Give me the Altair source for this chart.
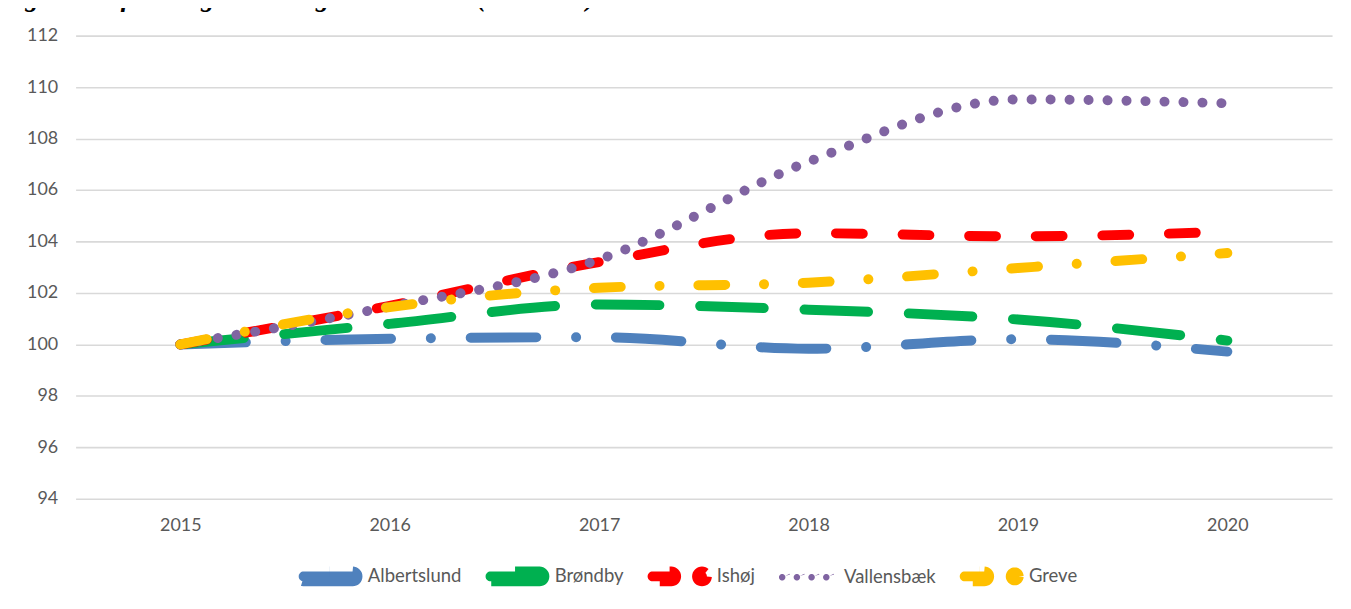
import math
import altair as alt
import pandas as pd

years = [2015, 2016, 2017, 2018, 2019, 2020]
series = ["Albertslund", "Brøndby", "Ishøj", "Vallensbæk", "Greve"]
albertslund = [100.0, 100.22, 100.28, 99.83, 100.2, 99.72]
brondby = [100.0, 100.8, 101.55, 101.35, 100.97, 100.15]
ishoj = [100.0, 101.5, 103.2, 104.32, 104.2, 104.38]
vallensbaek = [100.0, 101.47, 103.3, 107.1, 109.52, 109.37]
greve = [100.0, 101.45, 102.2, 102.4, 102.97, 103.55]
y_ticks = [94, 96, 98, 100, 102, 104, 106, 108, 110, 112]

colors = ["#4F81BD", "#00B050", "#FF0000", "#8064A2", "#FFC000"]
dashes = [[66, 40, 0.1, 40], [64, 41], [27, 40], [0.1, 19], [27, 39, 0.1, 39]]
widths = [10, 10, 10, 8.5, 10]

rows = []
for name, vals in zip(series, [albertslund, brondby, ishoj, vallensbaek, greve]):
    for yr, v in zip(years, vals):
        rows.append({"year": yr, "value": v, "series": name})
df = pd.DataFrame(rows)

TXT = "#595959"
FONT = "Lato"
N = 16


def fmt(v):
    v = 0.0 if abs(v) < 1e-9 else v
    return f"{v:.4f}"


def poly(points):
    s = "M" + fmt(points[0][0]) + "," + fmt(points[0][1])
    for px, py in points[1:]:
        s += "L" + fmt(px) + "," + fmt(py)
    return s + "Z"


def circle(cx, r):
    pts = [(cx + r * math.cos(2 * math.pi * i / (2 * N)),
            r * math.sin(2 * math.pi * i / (2 * N))) for i in range(2 * N)]
    return poly(pts)


def stadium(x0, x1, r):
    a, b = x0 + r, x1 - r
    pts = []
    for i in range(N + 1):
        t = -math.pi / 2 + math.pi * i / N
        pts.append((b + r * math.cos(t), r * math.sin(t)))
    for i in range(N + 1):
        t = math.pi / 2 + math.pi * i / N
        pts.append((a + r * math.cos(t), r * math.sin(t)))
    return poly(pts)


R = 0.167
legend_shapes = [
    stadium(-1.0, 1.0, R),
    stadium(-1.0, 1.0, R),
    stadium(-1.0, -0.03, R) + circle(0.85, R),
    circle(-0.75, 0.11) + circle(-0.25, 0.11) + circle(0.25, 0.11) + circle(0.75, 0.11),
    stadium(-1.0, 0.0, R) + circle(0.87, 0.135),
]

legend = alt.Legend(
    orient="none", legendX=219, legendY=509, direction="horizontal",
    title=None, symbolStrokeWidth=0, symbolStrokeColor="transparent",
    labelFont=FONT, labelFontSize=18.6,
    labelColor=TXT, columnPadding=3, labelOffset=5, symbolSize=3500,
    symbolOpacity=1,
)

xenc = alt.X("year:Q",
             scale=alt.Scale(domain=[2014.5, 2020.5], nice=False, zero=False),
             axis=alt.Axis(values=years, format="d", title=None, grid=False, ticks=False,
                           domain=False, labelPadding=18, labelFont=FONT, labelFontSize=18,
                           labelColor=TXT))
yenc = alt.Y("value:Q",
             scale=alt.Scale(domain=[94, 112], nice=False, zero=False),
             axis=alt.Axis(values=y_ticks, title=None, ticks=False, domain=False,
                           gridColor="#D9D9D9", gridWidth=1.6, labelPadding=18,
                           labelFont=FONT, labelFontSize=18, labelColor=TXT))

lines = alt.Chart(df).mark_line(interpolate="monotone", strokeCap="round").encode(
    x=xenc,
    y=yenc,
    color=alt.Color("series:N", scale=alt.Scale(domain=series, range=colors),
                    sort=series, legend=None),
    strokeDash=alt.StrokeDash("series:N", scale=alt.Scale(domain=series, range=dashes),
                              sort=series, legend=None),
    strokeWidth=alt.StrokeWidth("series:N", scale=alt.Scale(domain=series, range=widths),
                                legend=None),
)

keys = alt.Chart(df).transform_filter("datum.value < 0").mark_point(
    filled=True, size=3500, strokeWidth=0, strokeOpacity=0, opacity=1
).encode(
    x=xenc,
    y=yenc,
    color=alt.Color("series:N", scale=alt.Scale(domain=series, range=colors),
                    sort=series, legend=legend),
    shape=alt.Shape("series:N", scale=alt.Scale(domain=series, range=legend_shapes),
                    sort=series, legend=legend),
)

chart = alt.layer(keys, lines).properties(
    width=1264, height=466,
    autosize=alt.AutoSizeParams(type="none"),
    padding={"left": 68, "top": 26, "right": 11, "bottom": 100},
    title=alt.TitleParams(
        text="Figur 1 Befolkningsudvikling 2015 – 2021 (indekstal)",
        anchor="start", frame="group", offset=15, dx=-76,
        font="Liberation Serif", fontStyle="italic", fontWeight="bold",
        fontSize=27, color="#000000"),
).configure_view(stroke=None).configure_legend(
    orient="none", legendX=219, legendY=509, direction="horizontal",
    symbolStrokeWidth=0, symbolStrokeColor="transparent"
)

chart.save("out.html", embed_options={"renderer": "svg", "actions": False})
